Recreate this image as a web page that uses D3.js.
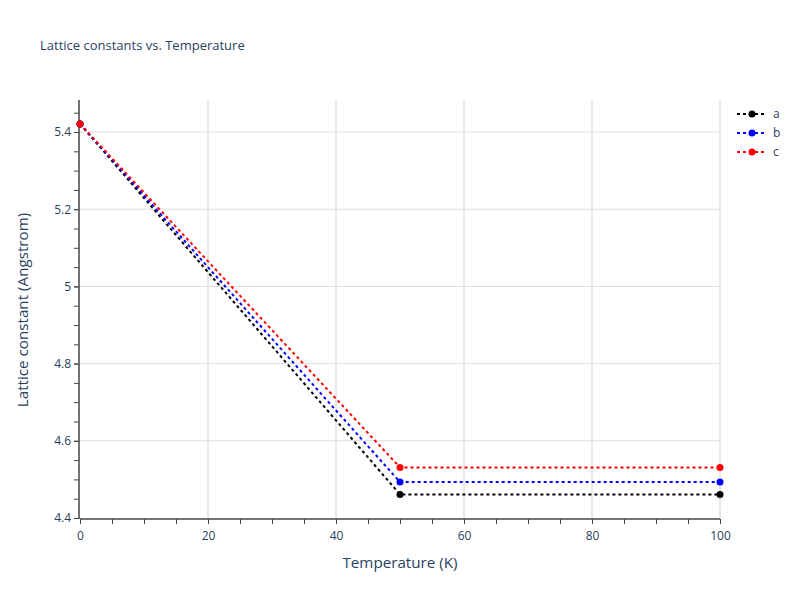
<!DOCTYPE html>
<html><head><meta charset="utf-8">
<script src="https://d3js.org/d3.v7.min.js"></script>
<style>body{margin:0;background:#fff}text{font-family:"Open Sans",sans-serif}</style>
</head><body><svg id="c" width="800" height="600"></svg>
<script>
const temps=[0,50,100];
const seriesA=[5.421,4.461,4.461];
const seriesB=[5.421,4.493,4.493];
const seriesC=[5.421,4.531,4.531];
const names=["a","b","c"];
const colors=["black","blue","red"];
const xTicks=[0,20,40,60,80,100];
const yTicks=[4.4,4.6,4.8,5,5.2,5.4];
const all=[seriesA,seriesB,seriesC];
const svg=d3.select("#c");
const x=d3.scaleLinear().domain([0,100]).range([80,720]);
const y=d3.scaleLinear().domain([4.4,5.4]).range([518,132]);
const txt="#2a3f5f";
svg.append("g").selectAll("line").data(xTicks.slice(1)).join("line")
 .attr("x1",d=>x(d)).attr("x2",d=>x(d)).attr("y1",100).attr("y2",519).attr("stroke","#e0e0e0").attr("stroke-width",1.5);
svg.append("g").selectAll("line").data(yTicks.slice(1)).join("line")
 .attr("x1",80).attr("x2",720).attr("y1",d=>y(d)).attr("y2",d=>y(d)).attr("stroke","#dcdcdc");
const xa=svg.append("g").attr("transform","translate(0,519)")
 .call(d3.axisBottom(x).tickValues(xTicks).tickSize(5).tickFormat(d3.format("d")));
const xm=svg.append("g").attr("transform","translate(0,519)")
 .call(d3.axisBottom(x).tickValues(d3.range(0,101,5)).tickSize(5).tickFormat(""));
const ya=svg.append("g").attr("transform","translate(79,0)")
 .call(d3.axisLeft(y).tickValues(yTicks).tickSize(5).tickFormat(d=>d===5?"5":d3.format(".1f")(d)));
const ym=svg.append("g").attr("transform","translate(79,0)")
 .call(d3.axisLeft(y).tickValues(d3.range(4.4,5.46,0.05)).tickSize(5).tickFormat(""));
[xa,ya].forEach(g=>{g.selectAll("text").attr("fill",txt).style("font-size","12px");});
xa.selectAll("text").attr("dy","1.1em");
[xa,ya,xm,ym].forEach(g=>{g.select(".domain").remove();g.selectAll("line").attr("stroke","#444");});
svg.append("line").attr("x1",80).attr("x2",720).attr("y1",519).attr("y2",519).attr("stroke","#444").attr("stroke-width",1.5);
svg.append("line").attr("x1",79).attr("x2",79).attr("y1",100).attr("y2",519).attr("stroke","#444").attr("stroke-width",1.5);
const line=d3.line().x((d,i)=>x(temps[i])).y(d=>y(d));
all.forEach((s,k)=>{
 svg.append("path").attr("d",line(s)).attr("fill","none").attr("stroke",colors[k]).attr("stroke-width",2).attr("stroke-dasharray","3,3");
 svg.append("g").selectAll("circle").data(s).join("circle").attr("cx",(d,i)=>x(temps[i])).attr("cy",d=>y(d)).attr("r",3.5).attr("fill",colors[k]);
});
names.forEach((n,k)=>{
 const g=svg.append("g").attr("transform",`translate(737,${114+k*19})`);
 g.append("line").attr("x1",0).attr("x2",30).attr("stroke",colors[k]).attr("stroke-width",2).attr("stroke-dasharray","3,3");
 g.append("circle").attr("cx",15).attr("r",3.5).attr("fill",colors[k]);
 g.append("text").attr("x",36).attr("y",4).text(n).attr("fill",txt).style("font-size","12px");
});
svg.append("text").attr("x",40).attr("y",50).text("Lattice constants vs. Temperature").attr("fill",txt).style("font-size","13px");
svg.append("text").attr("x",400).attr("y",568).attr("text-anchor","middle").text("Temperature (K)").attr("fill",txt).style("font-size","15.2px");
svg.append("text").attr("transform","translate(28,310) rotate(-90)").attr("text-anchor","middle").text("Lattice constant (Angstrom)").attr("fill",txt).style("font-size","15.2px");
</script></body></html>
